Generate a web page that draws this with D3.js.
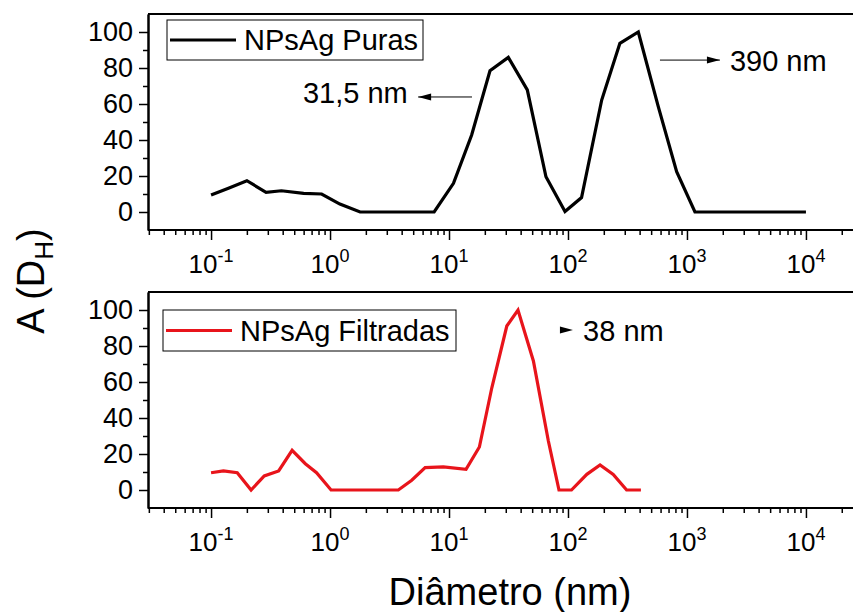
<!DOCTYPE html>
<html lang="pt">
<head>
  <meta charset="UTF-8">
  <title>Distribuição de tamanho - NPsAg</title>
  <style>
    body {
      margin: 0;
      padding: 0;
      background-color: #ffffff;
    }
    svg {
      display: block;
      font-family: 'Liberation Sans', Arial, sans-serif;
    }
  </style>
</head>
<body>

<svg></svg>

<script src="https://d3js.org/d3.v7.min.js"></script>
<script>
  const width = 853, height = 612;

  // diametro (nm) vs A(D_H)
  const purasD = [0.1, 0.14, 0.2, 0.29, 0.39, 0.6, 0.85, 1.21, 1.79, 2.6, 3.7, 5.3, 7.5,
                  10.9, 15.5, 22.1, 31.5, 45.5, 65.3, 94.4, 130, 192, 273, 390, 574, 819, 1167,
                  1650, 2350, 3350, 4750, 6900, 10000];
  const purasA = [9.4, 13.2, 17.4, 10.9, 11.8, 10.4, 10, 4.4, 0, 0, 0, 0, 0,
                  15.9, 42.8, 78.5, 85.9, 67.8, 19.6, 0.3, 8, 62.2, 93.7, 100, 58.5, 22.4, 0,
                  0, 0, 0, 0, 0, 0];

  const filtD = [0.1, 0.127, 0.166, 0.217, 0.28, 0.37, 0.48, 0.62, 0.77, 1.02, 1.35, 1.8, 2.6, 3.75,
                 4.86, 6.3, 8.96, 13.9, 18, 22.9, 30.6, 38, 51.2, 68.4, 84, 107, 144, 186, 240, 311, 410];
  const filtA = [9.6, 10.6, 9.6, 0, 7.8, 10.6, 22, 14.6, 9.6, 0, 0, 0, 0, 0,
                 5.4, 12.4, 12.8, 11.5, 23.9, 56.8, 91.1, 100, 71.7, 27.2, 0, 0, 8.7, 13.9, 8.7, 0, 0];

  const xMajor = [-1, 0, 1, 2, 3, 4];
  const yMajor = [0, 20, 40, 60, 80, 100];
  const yMinor = [10, 30, 50, 70, 90];

  const svg = d3.select("svg")
    .attr("width", width)
    .attr("height", height);

  svg.append("rect").attr("width", width).attr("height", height).attr("fill", "#fff");

  // x domain runs past the right edge of the picture (cropped like the original)
  const x = d3.scaleLog()
    .domain([Math.pow(10, -1.53), Math.pow(10, 4.53)])
    .range([148, 869]);

  const xMinor = [];
  for (let e = -2; e <= 4; e++) {
    for (let k = 2; k <= 9; k++) {
      const v = k * Math.pow(10, e);
      if (v > x.domain()[0] && v < x.domain()[1]) xMinor.push(v);
    }
  }

  const panels = [
    { top: 292, bottom: 508, d: filtD, a: filtA, color: "#e8141b", label: "NPsAg Filtradas",
      legend: { x: 163, y: 310, w: 293, h: 41 } },
    { top: 14, bottom: 230, d: purasD, a: purasA, color: "#000", label: "NPsAg Puras",
      legend: { x: 167, y: 20, w: 256, h: 40 } }
  ];

  function drawPanel(p) {
    const y = d3.scaleLinear().domain([-10, 110]).range([p.bottom, p.top]);
    const g = svg.append("g");

    // top frame line
    g.append("line")
      .attr("x1", x.range()[0]).attr("x2", width)
      .attr("y1", p.top).attr("y2", p.top)
      .attr("stroke", "#000").attr("stroke-width", 2);

    // x axis
    const xa = g.append("g").attr("transform", `translate(0,${p.bottom})`);
    xa.call(d3.axisBottom(x).tickValues(xMajor.map(e => Math.pow(10, e)))
      .tickSize(10).tickSizeOuter(0).tickFormat(""));
    xa.append("g").call(d3.axisBottom(x).tickValues(xMinor).tickSize(5).tickSizeOuter(0).tickFormat(""));
    xa.selectAll(".domain").attr("stroke-width", 2).attr("d", `M${x.range()[0]},0H${width + 20}`);
    xa.selectAll(".tick line").attr("stroke-width", 1.5);

    const lbl = xa.selectAll(".xlbl")
      .data(xMajor)
      .enter()
      .append("text")
      .attr("class", "xlbl")
      .attr("x", e => x(Math.pow(10, e)))
      .attr("y", 43)
      .attr("text-anchor", "middle")
      .attr("fill", "#000")
      .attr("font-family", "'Liberation Sans', Arial, sans-serif")
      .attr("font-size", 26);
    lbl.append("tspan").text("10");
    lbl.append("tspan").attr("dy", -11).attr("font-size", 18).text(e => e < 0 ? "-" + (-e) : e);

    // y axis
    const ya = g.append("g").attr("transform", `translate(${x.range()[0]},0)`);
    ya.call(d3.axisLeft(y).tickValues(yMajor).tickSize(9).tickSizeOuter(0).tickPadding(6));
    ya.append("g").call(d3.axisLeft(y).tickValues(yMinor).tickSize(5).tickSizeOuter(0).tickFormat(""));
    ya.selectAll(".domain").attr("stroke-width", 2);
    ya.selectAll(".tick line").attr("stroke-width", 1.5);
    ya.selectAll(".tick text")
      .attr("font-size", 27)
      .attr("font-family", "'Liberation Sans', Arial, sans-serif")
      .attr("fill", "#000");

    // data line
    const pts = p.d.map((v, i) => [v, p.a[i]]);
    g.append("path")
      .datum(pts)
      .attr("fill", "none")
      .attr("stroke", p.color)
      .attr("stroke-width", 3.2)
      .attr("stroke-linejoin", "miter")
      .attr("d", d3.line().x(d => x(d[0])).y(d => y(d[1])));

    // legend
    const L = p.legend;
    g.append("rect")
      .attr("x", L.x).attr("y", L.y).attr("width", L.w).attr("height", L.h)
      .attr("fill", "#fff").attr("stroke", "#000").attr("stroke-width", 1);
    g.append("line")
      .attr("x1", L.x + 3).attr("x2", L.x + 69)
      .attr("y1", L.y + L.h / 2).attr("y2", L.y + L.h / 2)
      .attr("stroke", p.color).attr("stroke-width", 3.2);
    g.append("text")
      .attr("x", L.x + 77).attr("y", L.y + L.h / 2 + 10)
      .attr("font-size", 29)
      .attr("fill", "#000")
      .text(p.label);

    return y;
  }

  const yBot = drawPanel(panels[0]);
  const yTop = drawPanel(panels[1]);

  // annotations (data coordinates)
  function arrowHead(px, py, dir) {
    return `M${px},${py}L${px - dir * 13},${py - 3.5}L${px - dir * 13},${py + 3.5}Z`;
  }

  function annotate(y, txt, tx, ty, anchor, ax1, ax2, ay, showLine) {
    const dir = ax2 > ax1 ? 1 : -1;
    if (showLine) {
      svg.append("line")
        .attr("x1", x(ax1)).attr("x2", x(ax2))
        .attr("y1", y(ay)).attr("y2", y(ay))
        .attr("stroke", "#000").attr("stroke-width", 1);
    }
    svg.append("path").attr("d", arrowHead(x(ax2), y(ay), dir)).attr("fill", "#000");
    svg.append("text")
      .attr("x", x(tx)).attr("y", y(ty))
      .attr("text-anchor", anchor)
      .attr("font-size", 29)
      .attr("fill", "#000")
      .text(txt);
  }

  annotate(yTop, "31,5 nm", 4.5, 60.6, "end", 15.6, 5.5, 63.9, true);
  annotate(yTop, "390 nm", 2296, 78.3, "start", 593, 1892, 84.4, true);
  annotate(yBot, "38 nm", 134, 82.8, "start", 100, 110, 88.9, false);

  // axis titles
  svg.append("text")
    .attr("x", 510).attr("y", 605)
    .attr("text-anchor", "middle")
    .attr("font-size", 38)
    .attr("fill", "#000")
    .text("Diâmetro (nm)");

  const yt = svg.append("text")
    .attr("transform", "translate(44,281) rotate(-90)")
    .attr("text-anchor", "middle")
    .attr("font-size", 38)
    .attr("fill", "#000");
  yt.append("tspan").text("A (D");
  yt.append("tspan").attr("dy", 9).attr("font-size", 26).text("H");
  yt.append("tspan").attr("dy", -9).text(")");
</script>

</body>
</html>
